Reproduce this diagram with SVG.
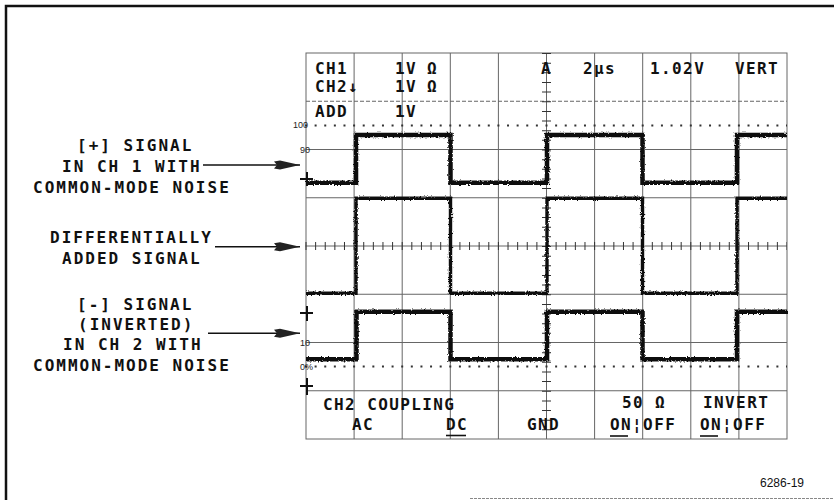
<svg xmlns="http://www.w3.org/2000/svg" width="834" height="500" viewBox="0 0 834 500">
  <style>
    .lbl { font-family: "DejaVu Sans Mono", "Liberation Mono", monospace; font-weight: bold; font-size: 16px; letter-spacing: 2px; fill: #111; }
    .ro { font-family: "DejaVu Sans Mono", "Liberation Mono", monospace; font-weight: bold; font-size: 16px; letter-spacing: 1.4px; fill: #111; }
    .small { font-family: "Liberation Sans", "DejaVu Sans", sans-serif; font-size: 9px; fill: #222; }
    .grid { stroke: #666; stroke-width: 1; fill: none; }
    .wave { stroke: #111; stroke-width: 4.5; fill: none; stroke-linejoin: miter; }
    .wave2 { stroke: #111; stroke-width: 3.4; fill: none; }
    .conn { stroke: #111; stroke-width: 1.5; fill: none; }
    .mark { stroke: #111; stroke-width: 2; fill: none; }
    .ul { stroke: #111; stroke-width: 1.6; }
  </style>
  <defs>
    <marker id="dart" markerUnits="userSpaceOnUse" markerWidth="28" markerHeight="10" refX="26" refY="5" orient="auto">
      <path d="M0,1.5 L6,0.5 L26,5 L6,9.5 L0,8.5 L3,5 z" fill="#222"/>
    </marker>
    <filter id="noise" x="-5%" y="-5%" width="110%" height="110%">
      <feTurbulence type="fractalNoise" baseFrequency="0.7" numOctaves="2" seed="3" result="t"/>
      <feDisplacementMap in="SourceGraphic" in2="t" scale="3" xChannelSelector="R" yChannelSelector="G"/>
    </filter>
  </defs>
  <rect width="834" height="500" fill="#fff"/>

  <g id="frame">
    <path d="M6,500 V6 H834" stroke="#111" stroke-width="2.5" fill="none"/>
    <line x1="470" y1="498.5" x2="834" y2="498.5" stroke="#888" stroke-width="1" stroke-dasharray="3 1"/>
  </g>

  <g id="graticule">
    <rect x="306" y="53" width="481" height="386" class="grid" stroke-width="1.3"/>
    <path class="grid" d="M354.1,53 V439 M402.2,53 V439 M450.3,53 V439 M498.4,53 V439 M594.6,53 V439 M642.7,53 V439 M690.8,53 V439 M738.9,53 V439"/>
    <path class="grid" d="M306,149.5 H787 M306,197.75 H787 M306,294.25 H787 M306,342.5 H787 M306,390.75 H787"/>
    <path class="grid" d="M306,101.25 H787" stroke-dasharray="4 2"/>
    <line x1="305.5" y1="246" x2="787" y2="246" class="grid" stroke="#333"/>
    <line x1="546.5" y1="53" x2="546.5" y2="439" class="grid" stroke="#333"/>
    <line x1="305.5" y1="246" x2="787" y2="246" stroke="#333" stroke-width="8" stroke-dasharray="1 8.62"/>
    <line x1="546.5" y1="53" x2="546.5" y2="439" stroke="#333" stroke-width="9" stroke-dasharray="1 8.65"/>
    <line x1="305" y1="125.4" x2="787" y2="125.4" stroke="#333" stroke-width="2" stroke-dasharray="2 7.62"/>
    <line x1="305" y1="366.6" x2="787" y2="366.6" stroke="#333" stroke-width="2" stroke-dasharray="2 7.62"/>
    <text class="small" x="293" y="128">100</text>
    <text class="small" x="300" y="153">90</text>
    <text class="small" x="300" y="346">10</text>
    <text class="small" x="300" y="370">0%</text>
    <path class="mark" d="M300,179 H313 M307,172 V186"/>
    <path class="mark" d="M300,313 H313 M307,306 V321"/>
    <path class="mark" d="M300,386 H313 M307,378 V395"/>
  </g>

  <g id="waveforms" filter="url(#noise)">
    <path id="ch1" class="wave" d="M306,182.7 H356 V135 H450.5 V182.7 H547 V135 H642.5 V182.7 H737 V135 H787"/>
    <path id="sum" class="wave2" d="M306,293.3 H356 V198.3 H450.5 V293.3 H547 V198.3 H642.5 V293.3 H737 V198.3 H787"/>
    <path id="ch2" class="wave" d="M306,359.3 H356.5 V311.7 H450.5 V359.3 H547 V311.7 H642.5 V359.3 H737 V311.7 H787"/>
  </g>

  <g id="readout">
    <text class="ro" x="315" y="74">CH1</text>
    <text class="ro" x="395" y="74">1V</text>
    <text class="ro" x="427" y="74">Ω</text>
    <text class="ro" x="541" y="74" font-size="12" letter-spacing="0">A</text>
    <text class="ro" x="583" y="74" letter-spacing="0.5">2µs</text>
    <text class="ro" x="650" y="74">1.02V</text>
    <text class="ro" x="735" y="74">VERT</text>
    <text class="ro" x="315" y="92">CH2↓</text>
    <text class="ro" x="395" y="92">1V</text>
    <text class="ro" x="427" y="92">Ω</text>
    <text class="ro" x="315" y="117">ADD</text>
    <text class="ro" x="395" y="117">1V</text>
    <text class="ro" x="323" y="410">CH2 COUPLING</text>
    <text class="ro" x="352" y="430">AC</text>
    <text class="ro" x="446" y="430">DC</text>
    <line class="ul" x1="446" y1="435.5" x2="466" y2="435.5"/>
    <text class="ro" x="527" y="430">GND</text>
    <text class="ro" x="622" y="408">50</text>
    <text class="ro" x="655" y="408">Ω</text>
    <text class="ro" x="610" y="430">ON¦OFF</text>
    <line class="ul" x1="610" y1="436" x2="628" y2="436"/>
    <text class="ro" x="703" y="408">INVERT</text>
    <text class="ro" x="700" y="430">ON¦OFF</text>
    <line class="ul" x1="700" y1="436" x2="718" y2="436"/>
  </g>

  <g id="label-ch1">
    <text class="lbl" x="77" y="151">[+] SIGNAL</text>
    <text class="lbl" x="62" y="172">IN CH 1 WITH</text>
    <text class="lbl" x="33" y="193">COMMON-MODE NOISE</text>
  </g>
  <g id="label-sum">
    <text class="lbl" x="50" y="243">DIFFERENTIALLY</text>
    <text class="lbl" x="62" y="264">ADDED SIGNAL</text>
  </g>
  <g id="label-ch2">
    <text class="lbl" x="77" y="310">[-] SIGNAL</text>
    <text class="lbl" x="78" y="330">(INVERTED)</text>
    <text class="lbl" x="63" y="350">IN CH 2 WITH</text>
    <text class="lbl" x="33" y="371">COMMON-MODE NOISE</text>
  </g>

  <g id="connectors">
    <line class="conn" x1="203" y1="165" x2="300" y2="165" marker-end="url(#dart)"/>
    <line class="conn" x1="215" y1="246.7" x2="300" y2="246.7" marker-end="url(#dart)"/>
    <line class="conn" x1="208" y1="333.3" x2="300" y2="333.3" marker-end="url(#dart)"/>
  </g>

  <text id="fig-no" x="760" y="487" font-family="Liberation Sans, Arial, sans-serif" font-size="12" fill="#111">6286-19</text>
</svg>
